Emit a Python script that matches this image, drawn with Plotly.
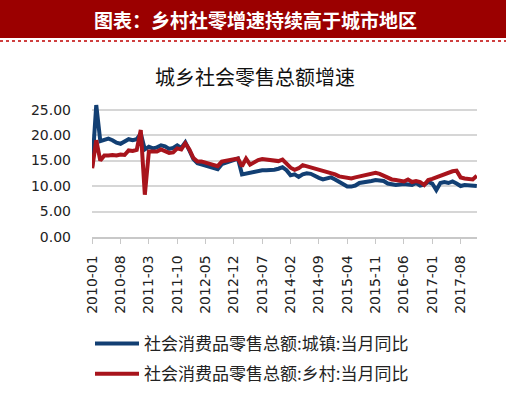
import plotly.graph_objects as go

# ---- data ----
months = [f"{y}-{m:02d}" for y in range(2010, 2018) for m in range(1, 13)]

urban = [13.8, 25.9, 18.8, 19.0, 19.3, 19.0, 18.5, 18.3, 18.8, 19.2, 19.0, 19.2,
         20.3, 17.2, 17.7, 17.4, 17.6, 18.0, 17.8, 17.3, 17.5, 18.0, 17.5, 18.6,
         17.0, 15.3, 14.5, 14.3, 14.0, 13.8, 13.5, 13.3, 14.3, 14.6, 15.0, 15.2,
         15.4, 12.3, 12.5, 12.6, 12.8, 13.0, 13.1, 13.1, 13.1, 13.2, 13.4, 13.7,
         13.1, 12.1, 12.3, 11.8, 12.3, 12.5, 12.4, 11.9, 11.6, 11.3, 11.5, 11.7,
         11.3, 10.9, 10.4, 9.9, 9.9, 10.1, 10.6, 10.7, 10.8, 11.0, 11.2, 11.1,
         11.0, 10.5, 10.3, 10.2, 10.3, 10.4, 10.3, 10.2, 10.6, 10.1, 10.3, 10.8,
         10.5, 9.2, 10.6, 10.8, 10.6, 10.9, 10.5, 10.0, 10.2, 10.1, 10.0, 10.0]

rural = [13.5, 19.0, 15.0, 16.0, 16.0, 16.1, 16.0, 16.2, 16.1, 17.0, 16.9, 17.1,
         21.0, 8.3, 16.8, 16.7, 16.8, 17.2, 16.9, 16.5, 16.6, 17.4, 17.2, 18.4,
         17.2, 15.5, 14.8, 14.8, 14.6, 14.4, 14.1, 13.9, 14.8, 15.0, 15.1, 15.3,
         15.4, 13.9, 15.4, 14.2, 14.7, 15.1, 15.3, 15.2, 15.1, 15.0, 14.9, 15.2,
         14.4, 13.6, 13.2, 13.5, 14.1, 13.9, 13.7, 13.4, 13.1, 12.9, 12.7, 12.6,
         12.3, 11.9, 11.7, 11.6, 11.5, 11.7, 11.9, 12.1, 12.2, 12.3, 12.6, 12.4,
         12.0, 11.5, 11.3, 11.2, 11.0, 10.9, 11.3, 10.8, 11.0, 10.8, 10.2, 11.2,
         11.4, 11.7, 12.1, 12.5, 12.7, 12.9, 13.0, 11.7, 11.5, 11.4, 11.3, 12.0]

tick_labels = months[::7]
y_ticks = [0, 5, 10, 15, 20, 25]
y_ticktext = [f"{v:.2f}" for v in y_ticks]

series_names = ["社会消费品零售总额:城镇:当月同比", "社会消费品零售总额:乡村:当月同比"]
header_text = "图表：乡村社零增速持续高于城市地区"
chart_title = "城乡社会零售总额增速"

# ---- layout geometry ----
W, H = 506, 394
ML, MR, MT, MB = 92, 29, 102, 157
PW = W - ML - MR
PH = H - MT - MB


def px_x(px):
    return (px - ML) / PW


def px_y(py):
    return (H - MB - py) / PH


BLUE = "#123f73"
RED = "#a8141c"
CJK = "Noto Sans CJK SC"

fig = go.Figure()
fig.add_trace(go.Scatter(x=months, y=urban, mode="lines", name=series_names[0],
                         line=dict(color=BLUE, width=4), legendgroup="a"))
fig.add_trace(go.Scatter(x=months, y=rural, mode="lines", name=series_names[1],
                         line=dict(color=RED, width=4), legendgroup="b"))

fig.update_layout(
    width=W, height=H,
    margin=dict(l=ML, r=MR, t=MT, b=MB, autoexpand=False),
    paper_bgcolor="white", plot_bgcolor="white",
    showlegend=True,
    legend=dict(x=px_x(90), y=px_y(326),
                xanchor="left", yanchor="top", orientation="v",
                font=dict(family=CJK, size=17, color="#222"),
                itemwidth=44,
                tracegroupgap=5, bgcolor="rgba(0,0,0,0)"),
    title=dict(text=chart_title, xref="container", yref="container",
               x=255 / W, y=1 - 78 / H, xanchor="center", yanchor="middle",
               font=dict(family=CJK, size=20, color="#111")),
    xaxis=dict(type="category", range=[-0.05, len(months) - 0.95],
               tickmode="array", tickvals=tick_labels, ticktext=tick_labels,
               tickangle=-90, ticks="outside", ticklen=5, tickcolor="#c8c8c8",
               showline=True, linecolor="#c8c8c8", linewidth=1.5,
               showgrid=False, zeroline=False,
               tickfont=dict(family="DejaVu Sans", size=14, color="#222"),
               ticklabelstandoff=6),
    yaxis=dict(range=[0, 26.5], tickmode="array", tickvals=y_ticks, ticktext=y_ticktext,
               showgrid=True, gridcolor="#d6d6d6", gridwidth=2,
               zeroline=False, showline=False, ticks="",
               tickfont=dict(family="DejaVu Sans", size=14, color="#222"),
               ticklabelstandoff=20),
)

# header banner
fig.add_shape(type="rect", xref="paper", yref="paper",
              x0=px_x(-2), x1=px_x(W + 2), y0=px_y(38), y1=px_y(-2),
              fillcolor="#9b0000", line=dict(width=0), layer="below")
fig.add_shape(type="line", xref="paper", yref="paper",
              x0=px_x(0), x1=px_x(W), y0=px_y(41), y1=px_y(41),
              line=dict(color="#c00000", width=1.5, dash="dot"))
fig.add_annotation(text=header_text, xref="paper", yref="paper",
                   x=px_x(255), y=px_y(19.5), xanchor="center", yanchor="middle",
                   showarrow=False,
                   font=dict(family=CJK, size=19, color="white", weight="bold"))

fig.write_html("out.html", config={"displayModeBar": False},
               post_script="document.body.style.margin='0';document.body.style.overflow='hidden';")
